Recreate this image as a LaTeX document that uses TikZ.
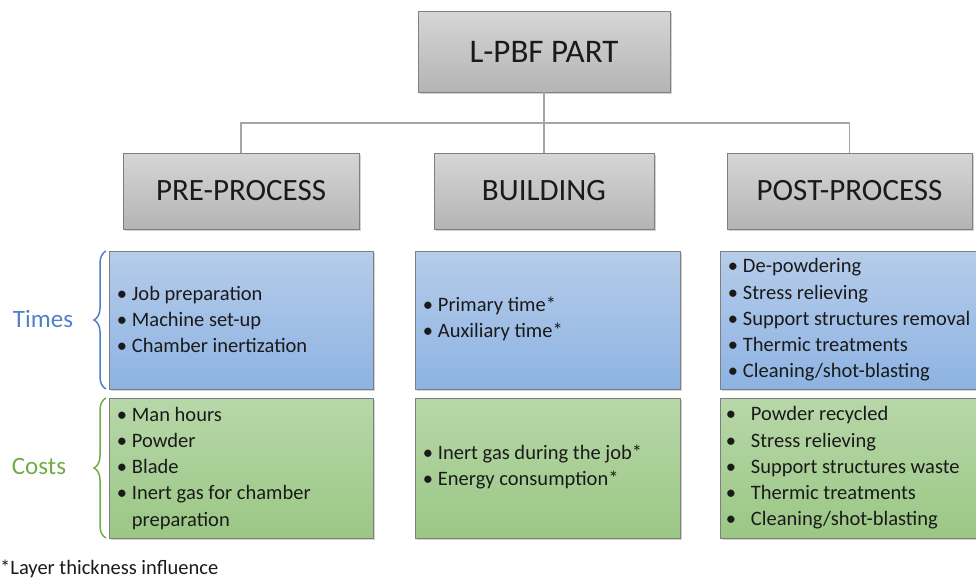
\documentclass[tikz,border=0pt]{standalone}
\usepackage{fontspec}
\setmainfont{Carlito}
\usetikzlibrary{decorations.pathreplacing,shadows}
\definecolor{grayT}{HTML}{D6D6D6}
\definecolor{grayB}{HTML}{B4B4B4}
\definecolor{blueT}{HTML}{B6CCEA}
\definecolor{blueB}{HTML}{8DB3E2}
\definecolor{greenT}{HTML}{B7D7A8}
\definecolor{greenB}{HTML}{9BC785}
\definecolor{edge}{HTML}{7F7F7F}
\definecolor{conn}{HTML}{A6A6A6}
\definecolor{timesC}{HTML}{4F81C8}
\definecolor{costsC}{HTML}{70AD47}
\definecolor{ink}{HTML}{1A1A1A}
\tikzset{
  box/.style={draw=edge, line width=0.9pt, inner sep=0pt, text=ink,
    drop shadow={shadow xshift=1.5pt, shadow yshift=-1.5pt, fill=black!35, opacity=0.5}},
  graybox/.style={box, top color=grayT, bottom color=grayB},
  bluebox/.style={box, top color=blueT, bottom color=blueB},
  greenbox/.style={box, top color=greenT, bottom color=greenB},
  head/.style={font=\fontsize{31}{36}\selectfont},
  listtxt/.style={anchor=west, inner sep=0pt, text=ink, font=\fontsize{20.5}{26.2}\selectfont, align=left},
  conline/.style={draw=conn, line width=1.3pt},
  side/.style={font=\fontsize{25}{30}\selectfont, anchor=center},
  bracestyle/.style={line width=1.5pt, decorate, decoration={brace, amplitude=12pt}}
}
\newcommand{\blist}[2][5pt]{\begin{tabular}{@{}l@{\hspace{#1}}l@{}}#2\end{tabular}}
\begin{document}
\begin{tikzpicture}[x=1pt,y=-1pt]
\useasboundingbox (0,0) rectangle (976,579);
% top
\node[graybox, minimum width=252pt, minimum height=81pt, font=\fontsize{33}{38}\selectfont] (top) at (544,51.5) {L-PBF PART};
% level 2
\node[graybox, head, minimum width=236pt, minimum height=76pt] (pre) at (241,191) {PRE-PROCESS};
\node[graybox, head, minimum width=220pt, minimum height=76pt] (build) at (544,191) {BUILDING};
\node[graybox, head, minimum width=245pt, minimum height=76pt] (post) at (849.5,191) {POST-PROCESS};
% connectors
\coordinate (bus) at (544,123);
\draw[conline] (top.south) -- (bus);
\draw[conline] (pre.north) |- (bus) -| (post.north);
\draw[conline] (bus) -- (build.north);
% times row
\node[bluebox, minimum width=264pt, minimum height=138pt] (tl) at (241,320) {};
\node[bluebox, minimum width=265pt, minimum height=138pt] (tm) at (547.5,320) {};
\node[bluebox, minimum width=262pt, minimum height=138pt] (tr) at (851,320) {};
% costs row
\node[greenbox, minimum width=264pt, minimum height=140pt] (cl) at (241,468) {};
\node[greenbox, minimum width=265pt, minimum height=140pt] (cm) at (547.5,468) {};
\node[greenbox, minimum width=262pt, minimum height=140pt] (cr) at (851,468) {};
% lists
\node[listtxt] (tlt) at ([xshift=8pt,yshift=-1pt]tl.west) {\blist{•&Job preparation\\•&Machine set-up\\•&Chamber inertization}};
\node[listtxt] (tmt) at ([xshift=8pt,yshift=1pt]tm.west) {\blist{•&Primary time*\\•&Auxiliary time*}};
\node[listtxt] (trt) at ([xshift=8pt,yshift=0pt]tr.west) {\blist{•&De-powdering\\•&Stress relieving\\•&Support structures removal\\•&Thermic treatments\\•&Cleaning/shot-blasting}};
\node[listtxt] (clt) at ([xshift=8pt,yshift=-0.5pt]cl.west) {\blist{•&Man hours\\•&Powder\\•&Blade\\•&Inert gas for chamber\\&preparation}};
\node[listtxt] (cmt) at ([xshift=8pt,yshift=1pt]cm.west) {\blist{•&Inert gas during the job*\\•&Energy consumption*}};
\node[listtxt] (crt) at ([xshift=6pt,yshift=0pt]cr.west) {\blist[15pt]{•&Powder recycled\\•&Stress relieving\\•&Support structures waste\\•&Thermic treatments\\•&Cleaning/shot-blasting}};
% braces and side labels
\coordinate (tb1) at (106,389);
\coordinate (tb2) at (106,251);
\coordinate (cb1) at (106,538);
\coordinate (cb2) at (106,398);
\draw[timesC, bracestyle] (tb1) -- (tb2);
\draw[costsC, bracestyle] (cb1) -- (cb2);
\node[side, text=timesC] (times) at (43,319) {Times};
\node[side, text=costsC] (costs) at (39,466) {Costs};
% footnote
\node[anchor=west, inner sep=0pt, text=ink, font=\fontsize{20.5}{24}\selectfont] (foot) at (0,569) {*Layer thickness influence};
\end{tikzpicture}
\end{document}
